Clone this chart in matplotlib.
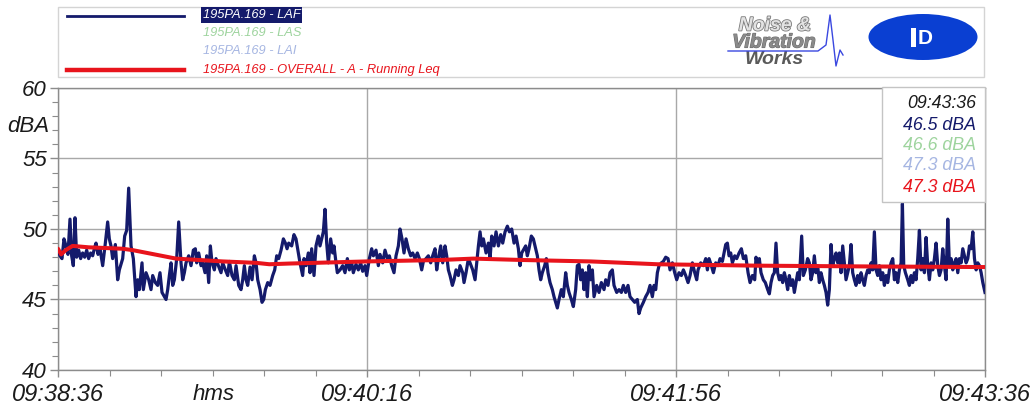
import matplotlib
matplotlib.use("Agg")
import matplotlib.pyplot as plt
import matplotlib.patheffects as pe
from matplotlib.patches import Rectangle, Ellipse
from matplotlib.lines import Line2D
from matplotlib.ticker import MultipleLocator, FixedLocator

plt.rcParams['font.family'] = ['Liberation Sans', 'DejaVu Sans']

# ---------------- data ----------------
# seconds after 09:38:36, LAF in dBA
laf_t = [0.0, 0.64, 1.29, 1.94, 2.59, 3.23, 3.88, 4.42, 4.96, 5.5, 6.04, 6.69, 7.33, 7.98, 8.63, 9.28,
         9.92, 10.57, 11.22, 11.87, 12.3, 12.95, 13.59, 14.46, 15.32, 16.07, 16.61, 17.15, 17.69, 18.56,
         19.31, 19.85, 20.93, 21.58, 22.22, 22.87, 23.63, 24.38, 25.25, 25.79, 26.33, 27.19, 27.62, 28.48,
         29.35, 30.1, 30.64, 31.5, 32.26, 33.01, 33.66, 34.42, 34.96, 35.5, 36.04, 36.58, 37.12, 37.66,
         38.41, 39.06, 39.81, 40.35, 40.89, 41.43, 42.29, 43.05, 43.8, 44.45, 44.88, 45.53, 46.29, 46.83,
         47.58, 48.12, 48.77, 49.31, 49.85, 50.6, 51.14, 51.9, 52.76, 53.3, 54.16, 54.92, 55.46, 56.32,
         57.08, 57.62, 58.48, 59.23, 59.77, 60.31, 60.85, 61.39, 62.15, 62.8, 63.55, 64.09, 64.63, 65.39,
         66.03, 66.57, 67.11, 67.87, 68.62, 69.48, 70.13, 70.78, 71.43, 72.18, 72.94, 73.59, 74.13, 74.67,
         75.62, 76.37, 77.02, 77.78, 78.32, 79.18, 79.61, 80.26, 81.01, 81.55, 82.09, 82.85, 83.5, 84.25,
         84.79, 85.33, 85.87, 86.41, 86.95, 87.49, 88.24, 88.89, 89.32, 89.97, 90.4, 91.27, 92.13, 92.88,
         93.64, 94.29, 95.04, 95.58, 96.44, 97.2, 97.95, 98.6, 99.36, 99.9, 100.76, 101.51, 102.06, 102.92,
         103.67, 104.21, 105.08, 105.83, 106.59, 107.23, 107.99, 108.74, 109.39, 110.15, 110.69, 111.33,
         111.98, 112.63, 113.38, 114.14, 114.79, 115.54, 116.3, 116.95, 117.7, 118.24, 119.1, 119.86,
         120.61, 121.26, 122.02, 122.56, 123.1, 123.85, 124.5, 125.25, 125.79, 126.33, 126.87, 127.63,
         128.17, 128.82, 129.57, 130.11, 130.97, 131.4, 132.05, 132.81, 133.35, 134.21, 134.97, 135.51,
         136.05, 136.59, 137.13, 137.66, 138.53, 139.28, 139.82, 140.36, 141.12, 141.76, 142.52, 143.27,
         143.92, 144.68, 145.43, 146.08, 146.83, 147.59, 148.24, 148.99, 149.53, 150.07,
         151.35, 151.89, 152.43, 153.18, 153.83, 154.59, 155.13, 155.67, 156.21, 156.74, 157.5, 158.04,
         158.58, 159.23, 159.98, 160.52, 161.06, 161.6, 162.14, 162.9, 163.54, 164.3, 164.84, 165.38,
         166.13, 166.78, 167.53, 168.07, 168.61, 169.15, 169.69, 170.23, 170.77, 171.31, 171.85, 172.39,
         172.93, 173.47, 174.33, 175.09, 175.84, 176.71, 177.25, 178.0, 178.65, 179.4, 179.94, 180.81,
         181.56, 182.32, 182.96, 183.72, 184.47, 185.12, 185.88, 186.63, 187.49, 188.03, 188.57, 189.44,
         190.19, 190.95, 191.6, 192.35, 192.89, 193.43, 193.97, 194.51, 195.27, 195.91, 196.67, 197.42,
         198.07, 198.83, 199.58, 200.23, 200.98, 201.74, 202.39, 203.14, 203.9, 204.55, 205.3, 206.06,
         206.7, 207.13, 208.0, 208.86, 209.62, 210.16, 210.7, 211.45, 212.1, 212.85, 213.61, 214.25,
         215.01, 215.55, 216.09, 216.63, 217.17, 217.71, 218.25, 219.0, 219.65, 220.41, 221.16, 221.81,
         222.56, 223.32, 223.96, 224.72, 225.47,
         225.89, 226.43, 226.97, 227.51, 228.26, 228.91, 229.67, 230.21, 230.75, 231.29, 231.83, 232.36,
         232.9, 233.44, 233.98, 234.52, 235.06, 235.6, 236.14, 236.68, 237.22, 237.76, 238.3, 238.84,
         239.38, 239.92, 240.67, 241.21, 241.86, 242.61, 243.15, 243.69, 244.23, 244.77, 245.31, 245.85,
         246.39, 246.93, 247.47, 248.01, 248.55, 249.09, 249.63, 250.17, 250.71, 251.25, 251.79, 252.33,
         252.87, 253.41, 253.95, 254.49, 255.02, 255.56, 256.1, 256.64, 257.18, 257.72, 258.26, 258.8,
         259.34, 259.88, 260.42, 260.96, 261.5, 262.04, 262.58, 263.12, 263.66, 264.2, 264.74, 265.28,
         265.82, 266.36, 266.9, 267.44, 267.98, 268.52, 269.06, 269.6, 270.14, 270.68, 271.22, 271.76,
         272.3, 272.84, 273.27, 273.7, 274.24, 274.99, 275.53, 276.07, 276.61, 277.15, 277.69, 278.23,
         278.77, 279.31, 279.85, 280.39, 280.93, 281.47, 282.01, 282.55, 283.09, 283.63, 284.17, 284.71,
         285.25, 285.79, 286.33, 286.87, 287.41, 287.95, 288.49, 289.03, 289.57, 290.11, 290.65, 291.19,
         291.73, 292.27, 292.81, 293.35, 293.89, 294.43, 294.97, 295.51, 296.05, 296.59, 297.13, 297.67,
         298.21, 298.75, 299.29, 300.0]
laf_db = [48.5, 48.1, 47.9, 49.3, 48.8, 48.2, 50.7, 48.1, 47.4, 50.8, 48.0, 48.5, 47.9, 48.3, 48.0, 48.5,
          47.9, 48.3, 48.1, 48.7, 49.0, 48.2, 48.6, 47.4, 49.0, 50.5, 49.3, 48.8, 47.9, 48.9,
          46.4, 47.1, 47.9, 49.5, 49.9, 52.9, 48.8, 47.9, 45.2, 46.4, 45.7, 47.6, 45.7, 46.9,
          46.4, 45.7, 46.7, 46.2, 46.0, 46.9, 45.5, 45.2, 45.0, 45.7, 46.7, 47.6, 46.0, 46.4,
          47.9, 50.5, 47.6, 46.4, 46.9, 47.6, 48.1, 47.4, 48.5, 48.6, 47.6, 48.3, 47.4, 47.6,
          46.9, 48.1, 46.2, 48.8, 47.6, 47.1, 47.9, 47.4, 46.9, 47.6, 47.1, 46.7, 47.7, 46.7,
          46.4, 47.4, 46.0, 45.7, 46.4, 47.4, 46.4, 46.0, 47.3, 46.4, 48.1, 47.6, 46.4, 45.7,
          44.8, 45.0, 45.7, 46.2, 46.0, 46.7, 47.1, 48.1, 47.9, 48.5, 49.3, 49.0, 48.6, 49.0,
          48.8, 49.6, 49.3, 48.3, 47.6, 46.7, 47.9, 47.4, 48.3, 46.9, 48.6, 46.7, 48.8, 49.5,
          48.8, 49.3, 49.8, 51.4, 49.0, 47.6, 49.3, 48.3, 48.8, 47.6, 46.9, 47.1, 47.4, 46.9,
          47.9, 47.1, 47.6, 46.9, 47.5, 47.1, 47.6, 47.0, 47.4, 46.7, 47.9, 48.6, 48.1, 48.5,
          47.4, 48.2, 47.6, 48.5, 47.9, 48.1, 47.4, 46.9, 48.1, 48.8, 50.0, 49.3,
          48.3, 49.3, 48.6, 48.1, 48.3, 47.9, 48.3, 47.9, 47.1, 47.7, 47.9, 48.1,
          47.6, 48.1, 48.6, 47.1, 47.9, 48.8, 47.6, 48.8, 48.1, 47.1, 46.7, 46.0,
          46.4, 47.1, 46.7, 47.4, 46.9, 46.2, 46.9, 47.9, 47.6, 47.1, 46.4, 47.6,
          48.8, 49.8, 48.8, 49.3, 48.3, 49.0, 47.9, 49.5, 48.8, 49.8, 48.8, 49.6,
          49.0, 49.8, 50.2, 49.8, 50.0, 49.0, 49.5, 48.6, 47.4, 48.3,
          48.8, 48.1, 48.6, 49.5, 49.3, 48.6, 48.1, 47.1, 46.4, 46.9, 47.4, 47.9,
          46.9, 46.2, 45.7, 45.2, 44.8, 44.4, 45.0, 45.7, 45.2, 46.9, 46.0, 45.5,
          45.0, 44.5, 45.7, 47.4, 47.5, 46.4, 47.1, 45.7, 46.9, 45.2, 47.4, 46.4,
          47.1, 45.2, 46.0, 45.5, 46.2, 45.7, 46.4, 46.0, 46.9, 47.1, 46.0, 45.5,
          45.7, 45.5, 46.0, 45.5, 46.0, 45.2, 45.0, 44.8, 45.0, 44.0, 44.4, 44.8,
          45.2, 45.5, 46.0, 45.2, 46.0, 45.7, 46.9, 47.4, 47.6, 47.7, 48.0, 47.9,
          47.1, 47.6, 46.9, 46.4, 46.9, 46.7, 47.1, 46.7, 46.2, 46.7, 47.6, 46.9,
          46.4, 47.1, 47.6, 47.4, 47.9, 47.1, 47.9, 47.4, 46.9, 47.6, 47.4, 47.9,
          47.7, 48.3, 48.9, 49.0, 48.1, 48.3, 47.6, 48.1, 47.9, 48.3, 48.6, 47.9,
          48.1, 46.9, 46.2, 46.7, 46.4,
          48.0, 47.4, 47.9, 46.9, 46.4, 46.2, 45.7, 45.4, 46.2, 46.7, 46.9, 49.0,
          46.9, 46.4, 46.7, 46.2, 46.9, 46.4, 45.7, 46.7, 46.0, 46.4, 45.5, 46.2,
          46.9, 46.4, 49.5, 46.7, 47.1, 47.9, 47.6, 46.4, 46.9, 48.1, 46.9, 47.4,
          46.2, 46.9, 46.4, 46.0, 45.5, 44.6, 45.7, 48.9, 47.4, 47.9, 48.3, 47.6,
          48.3, 46.9, 48.8, 47.6, 46.4, 46.9, 47.4, 48.9, 46.9, 46.4, 46.0, 46.7,
          46.2, 46.9, 46.4, 46.0, 46.7, 47.1, 46.9, 47.6, 47.1, 49.8, 47.1, 46.7,
          47.4, 46.4, 46.9, 46.0, 46.7, 46.2, 47.1, 47.6, 47.9, 46.4, 46.9, 46.2,
          47.1, 47.6, 51.8, 47.4, 46.9, 46.4, 46.0, 46.7, 46.2, 46.9, 46.4, 47.9,
          49.9, 47.1, 47.9, 46.9, 49.4, 47.4, 46.4, 47.6, 47.1, 47.9, 49.0, 47.4,
          46.7, 47.1, 48.6, 47.4, 46.4, 50.7, 47.4, 47.9, 47.1, 47.6, 47.9, 46.9,
          47.9, 47.6, 48.6, 48.1, 47.6, 47.9, 48.8, 48.6, 49.8, 47.9, 47.1, 47.6,
          47.4, 46.9, 46.2, 45.5]

# OVERALL - A - Running Leq
leq_t = [0.0, 1.0, 2.5, 4.7, 10.0, 20.9, 24.2, 38.2, 53.3, 64.1, 68.4, 74.9, 99.9, 123.6, 134.4,
         150.6, 172.4, 194.0, 226.3, 258.3, 300.0]
leq_db = [48.6, 48.2, 48.5, 48.8, 48.7, 48.6, 48.5, 47.9, 47.7, 47.6, 47.5, 47.55, 47.7, 47.8, 47.9,
          47.8, 47.7, 47.5, 47.4, 47.35, 47.3]

x_ticks = [0, 100, 200, 300]
x_tick_labels = ["09:38:36", "09:40:16", "09:41:56", "09:43:36"]
y_ticks = [40, 45, 50, 55, 60]

legend_labels = ["195PA.169 - LAF", "195PA.169 - LAS", "195PA.169 - LAI",
                 "195PA.169 - OVERALL - A - Running Leq"]
readout_time = "09:43:36"
readout_values = ["46.5 dBA", "46.6 dBA", "47.3 dBA", "47.3 dBA"]

# ---------------- styles ----------------
W, H = 1030, 407
NAVY = "#141a6b"
RED = "#e8141c"
GREEN = "#9ed49e"
LBLUE = "#a6b6e2"
GRID = "#a8a8a8"
TXT = "#1a1a1a"

fig = plt.figure(figsize=(W / 100, H / 100), dpi=100)
fig.patch.set_facecolor("white")


def fx(px):
    return px / W


def fy(py):
    return 1 - py / H


ax = fig.add_axes([fx(58), fy(370), fx(985) - fx(58), fy(88) - fy(370)])
ax.plot(laf_t, laf_db, color=NAVY, lw=2.3, zorder=3, solid_joinstyle="round")
ax.plot(leq_t, leq_db, color=RED, lw=2.9, zorder=4, solid_capstyle="round")

ax.set_xlim(0, 300)
ax.set_ylim(40, 60)
ax.xaxis.set_major_locator(FixedLocator(x_ticks))
ax.set_xticklabels(x_tick_labels)
ax.xaxis.set_minor_locator(MultipleLocator(100 / 6))
ax.yaxis.set_major_locator(FixedLocator(y_ticks))
ax.yaxis.set_minor_locator(MultipleLocator(1))
ax.grid(True, which="major", color=GRID, lw=1.0, zorder=0)
ax.set_axisbelow(True)
for s in ax.spines.values():
    s.set_color("#8c8c8c")
    s.set_linewidth(1.0)
ax.tick_params(axis="both", which="both", colors="#8c8c8c", labelcolor=TXT)
ax.tick_params(axis="y", which="major", length=6, width=1, pad=2, labelsize=16)
ax.tick_params(axis="y", which="minor", length=4, width=0.8)
ax.tick_params(axis="x", which="major", length=5, width=1, pad=4.5, labelsize=17)
ax.tick_params(axis="x", which="minor", length=4, width=0.8)
for lab in ax.get_xticklabels() + ax.get_yticklabels():
    lab.set_fontstyle("italic")

fig.text(fx(28), fy(126), "dBA", fontsize=16, style="italic", color=TXT, ha="center", va="center")
fig.text(fx(214), fy(395), "hms", fontsize=16, style="italic", color=TXT, ha="center", va="center")

# ---------------- legend frame ----------------
fig.add_artist(Rectangle((fx(58), fy(77)), fx(984) - fx(58), fy(7) - fy(77), transform=fig.transFigure,
                         facecolor="white", edgecolor="#d4d4d4", lw=1.0, zorder=1))
fig.add_artist(Line2D([fx(67), fx(184)], [fy(16), fy(16)], color=NAVY, lw=2.0, zorder=2))
fig.add_artist(Line2D([fx(67), fx(184)], [fy(70), fy(70)], color=RED, lw=3.2, zorder=2))
leg_colors = ["white", GREEN, LBLUE, RED]
leg_y = [15, 33, 51, 70]
for lab, c, yy in zip(legend_labels, leg_colors, leg_y):
    kw = {}
    if c == "white":
        kw["bbox"] = dict(boxstyle="square,pad=0.12", facecolor=NAVY, edgecolor="none")
    fig.text(fx(203), fy(yy), lab, fontsize=9.3, style="italic", color=c, ha="left", va="center",
             zorder=3, **kw)

# ---------------- logos ----------------
outline = [pe.withStroke(linewidth=1.2, foreground="#7a7a7a")]
fig.text(fx(775), fy(26), "Noise &", fontsize=14, style="italic", weight="bold", color="#e2e2e2",
         ha="center", va="center", zorder=3, path_effects=outline)
fig.text(fx(774), fy(43), "Vibration", fontsize=14, style="italic", weight="bold", color="#8a8a8a",
         ha="center", va="center", zorder=3, path_effects=[pe.withStroke(linewidth=0.8, foreground="#6a6a6a")])
fig.text(fx(774), fy(60), "Works", fontsize=14, style="italic", weight="bold", color="#5a5a5a",
         ha="center", va="center", zorder=3)
wave_x = [728, 818, 826, 830, 833, 836, 840, 843]
wave_y = [51, 51, 45, 15, 40, 66, 50, 55]
fig.add_artist(Line2D([fx(v) for v in wave_x], [fy(v) for v in wave_y], color="#3a48e0", lw=1.0, zorder=4))
fig.add_artist(Ellipse((fx(923), fy(37)), fx(109), 46 / H, transform=fig.transFigure,
                       facecolor="#0a3fd2", edgecolor="none", zorder=3))
fig.add_artist(Rectangle((fx(911), fy(47)), fx(5), 19 / H, transform=fig.transFigure,
                         facecolor="white", edgecolor="none", zorder=4))
fig.text(fx(925), fy(38), "D", fontsize=15, weight="heavy", color="white", ha="center", va="center",
         zorder=5)

# ---------------- readout box ----------------
fig.add_artist(Rectangle((fx(882), fy(202)), fx(985) - fx(882), fy(87) - fy(202), transform=fig.transFigure,
                         facecolor="white", edgecolor="#c4c4c4", lw=1.0, zorder=6))
read_colors = [TXT, NAVY, GREEN, LBLUE, RED]
read_y = [103, 125, 146, 166, 187]
for txt, c, yy in zip([readout_time] + readout_values, read_colors, read_y):
    fig.text(fx(976), fy(yy), txt, fontsize=12.8, style="italic", color=c, ha="right", va="center", zorder=7)

fig.savefig("out.png", dpi=100)
